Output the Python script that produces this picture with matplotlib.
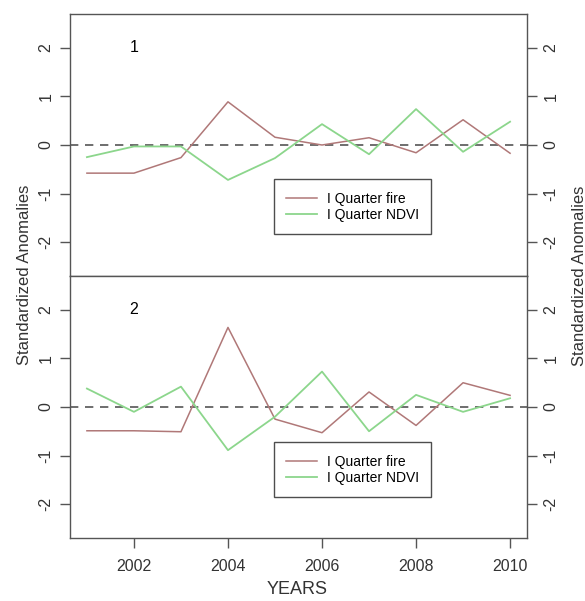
import matplotlib
matplotlib.use("Agg")
import matplotlib.pyplot as plt
from matplotlib.lines import Line2D

plt.rcParams['font.family'] = ['Liberation Sans', 'DejaVu Sans']

years = [2001, 2002, 2003, 2004, 2005, 2006, 2007, 2008, 2009, 2010]
fire1 = [-0.58, -0.58, -0.26, 0.89, 0.16, 0.0, 0.15, -0.16, 0.52, -0.17]
ndvi1 = [-0.25, -0.03, -0.03, -0.72, -0.27, 0.43, -0.19, 0.74, -0.14, 0.48]
fire2 = [-0.49, -0.49, -0.51, 1.64, -0.25, -0.53, 0.31, -0.38, 0.50, 0.24]
ndvi2 = [0.38, -0.10, 0.42, -0.89, -0.20, 0.73, -0.50, 0.25, -0.10, 0.18]
panel_labels = ["1", "2"]
series_labels = ["I Quarter fire", "I Quarter NDVI"]
xticks = [2002, 2004, 2006, 2008, 2010]
yticks = [-2, -1, 0, 1, 2]

fire_color = '#b07878'
ndvi_color = '#8cd68c'
axis_color = '#555555'

fig = plt.figure(figsize=(5.85, 6.01), dpi=100)
W, H = 585, 601
left, right = 70, 527
panels = [(14, 276, fire1, ndvi1), (276, 538, fire2, ndvi2)]

for i, (top, bot, f, n) in enumerate(panels):
    ax = fig.add_axes([left / W, 1 - bot / H, (right - left) / W, (bot - top) / H])
    ax.set_xlim(2000.64, 2010.36)
    ax.set_ylim(-2.7, 2.7)
    ax.axhline(0, color='#555555', lw=1.2, dashes=(5, 4))
    ax.plot(years, f, color=fire_color, lw=1.1)
    ax.plot(years, n, color=ndvi_color, lw=1.3)
    ax.text(2002, 2.0, panel_labels[i], ha='center', va='center', fontsize=11.5)
    for s in ax.spines.values():
        s.set_color(axis_color)
        s.set_linewidth(1.0)
    ax.set_yticks(yticks)
    ax.set_yticklabels([str(v) for v in yticks], rotation=90, va='center')
    ax.tick_params(axis='y', left=True, right=True, labelleft=True, labelright=True,
                   length=7, width=1.0, color=axis_color, labelsize=11.5, pad=5,
                   labelcolor='#333333')
    if i == 1:
        ax.set_xticks(xticks)
        ax.set_xticklabels([str(v) for v in xticks])
        ax.tick_params(axis='x', length=7, width=1.0, color=axis_color, labelsize=11.5,
                       pad=8, labelcolor='#333333')
    else:
        ax.set_xticks([])
    handles = [Line2D([], [], color=fire_color, lw=1.1), Line2D([], [], color=ndvi_color, lw=1.3)]
    leg = ax.legend(handles, series_labels, loc='upper left',
                    bbox_to_anchor=(0.446, 0.37 if i == 0 else 0.366),
                    fontsize=10, frameon=True, fancybox=False, edgecolor='#222222',
                    handlelength=2.2, handletextpad=0.7, borderpad=0.9,
                    labelspacing=0.15, borderaxespad=0)
    leg.get_frame().set_linewidth(1.0)

fig.text(25 / W, 1 - 275 / H, 'Standardized Anomalies', rotation=90, ha='center', va='center',
         fontsize=12, color='#333333')
fig.text(579 / W, 1 - 276 / H, 'Standardized Anomalies', rotation=90, ha='center', va='center',
         fontsize=12, color='#333333')
fig.text(297 / W, 1 - 590 / H, 'YEARS', ha='center', va='center', fontsize=13, color='#333333')

fig.savefig('out.png', dpi=100)
